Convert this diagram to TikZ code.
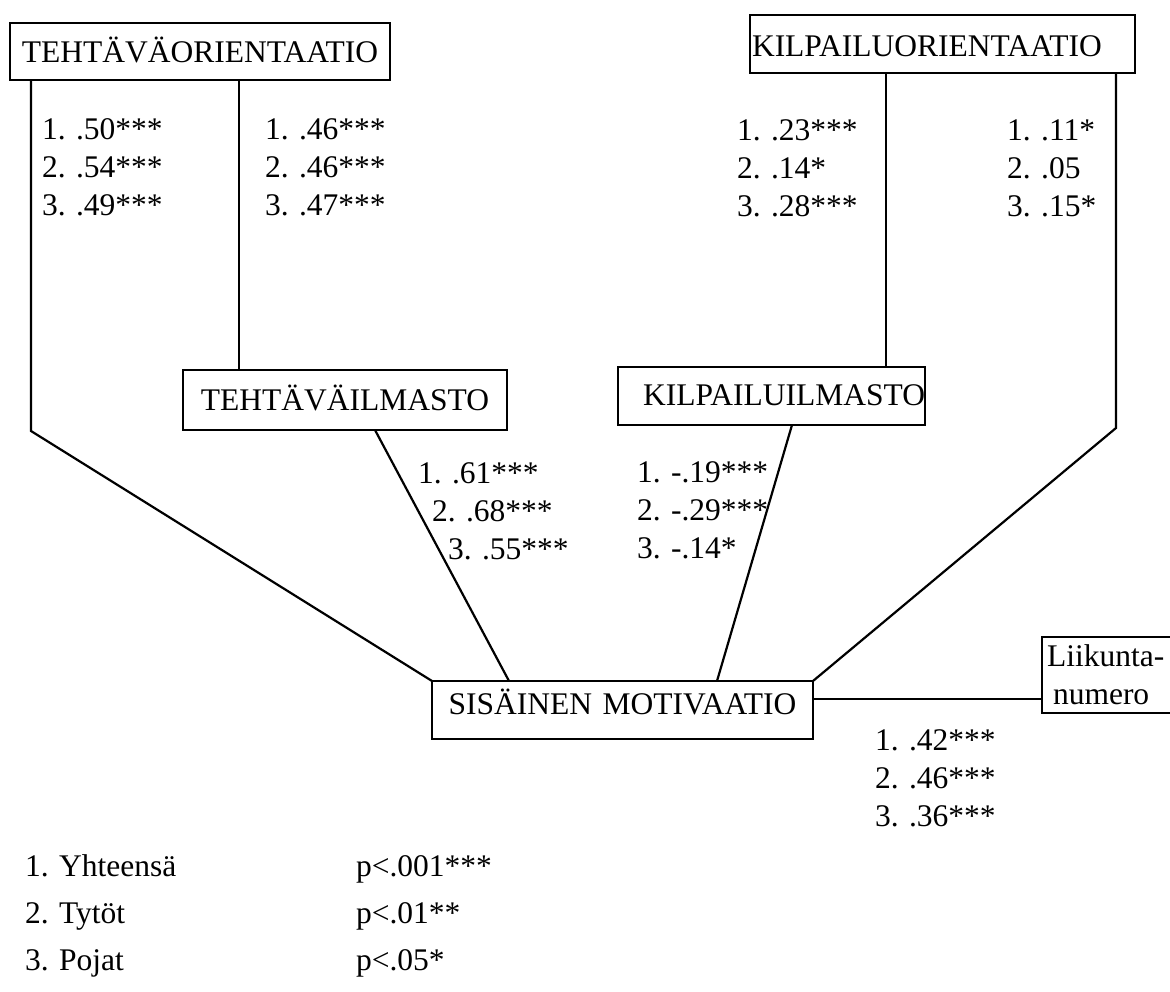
\documentclass[tikz,border=0pt]{standalone}
\usepackage{fontspec}
\setmainfont{Liberation Serif}
\usetikzlibrary{calc}
% three stacked coefficient lines, baseline = first line
\newcommand\trio[3]{\vtop{\hbox{#1}\hbox{#2}\hbox{#3}}}

\begin{document}
\begin{tikzpicture}[x=1pt,y=-1pt,
  font=\fontsize{31.5}{38}\selectfont,
  every node/.style={inner sep=0pt, outer sep=0pt},
  box/.style={draw, line width=2.4pt, anchor=north west, inner sep=0pt},
  link/.style={line width=2.2pt},
  vals/.style={anchor=base west}]
\clip (0,0) rectangle (1170,992);

% concept boxes
\node[box, text width=380pt, align=center, text height=40pt, text depth=17pt] (A) at (10,23) {TEHTÄVÄORIENTAATIO};
\node[box, text width=385pt, align=left, text height=42pt, text depth=16pt] (B) at (750,15) {\hspace*{2pt}KILPAILUORIENTAATIO};
\node[box, text width=324pt, align=center, text height=40pt, text depth=20pt] (C) at (183,370) {TEHTÄVÄILMASTO};
\node[box, text width=307pt, align=right, text height=38pt, text depth=20pt] (D) at (618,367) {KILPAILUILMASTO};
\node[box, text width=381pt, align=center, text height=33pt, text depth=25pt] (E) at (432,681) {SISÄINEN MOTIVAATIO};
\node[box, text width=150pt, align=left, minimum height=76pt] (F) at (1042,637) {\hspace*{5pt}Liikunta-\\\hspace*{11pt}numero};

% bend points
\coordinate (kA) at (31,431);
\coordinate (kB) at (1116,428);

% connectors
\draw[link] ($(A.south west)+(21,0)$) -- (kA) -- (E.north west);
\draw[link] ($(A.south west)+(229,0)$) -- ($(C.north west)+(56,0)$);
\draw[link] ($(C.south west)+(192,0)$) -- ($(E.north west)+(77,0)$);
\draw[link] ($(D.south west)+(174,0)$) -- ($(E.north west)+(285,0)$);
\draw[link] ($(B.south west)+(136,0)$) -- ($(D.north west)+(268,0)$);
\draw[link] ($(B.south west)+(366,0)$) -- (kB) -- (E.north east);
\draw[link] ($(E.north east)+(0,18)$) -- ($(F.north west)+(0,62)$);

% coefficients
\node[vals] (vA1) at (42,140) {\trio{1. .50***}{2. .54***}{3. .49***}};
\node[vals] (vA2) at (265,140) {\trio{1. .46***}{2. .46***}{3. .47***}};
\node[vals] (vB1) at (737,141) {\trio{1. .23***}{2. .14*}{3. .28***}};
\node[vals] (vB2) at (1007,141) {\trio{1. .11*}{2. .05}{3. .15*}};
\node[vals] (vC) at (418,483) {\trio{1. .61***}{\hspace*{14pt}2. .68***}{\hspace*{30pt}3. .55***}};
\node[vals] (vD) at (637,482) {\trio{1. -.19***}{2. -.29***}{3. -.14*}};
\node[vals] (vE) at (875,750) {\trio{1. .42***}{2. .46***}{3. .36***}};

% legend
\node[vals] (legL) at (25,876) {\vtop{\baselineskip=47pt\hbox{1. Yhteensä}\hbox{2. Tytöt}\hbox{3. Pojat}}};
\node[vals] (legR) at (356,876) {\vtop{\baselineskip=47pt\hbox{p<.001***}\hbox{p<.01**}\hbox{p<.05*}}};
\end{tikzpicture}
\end{document}
